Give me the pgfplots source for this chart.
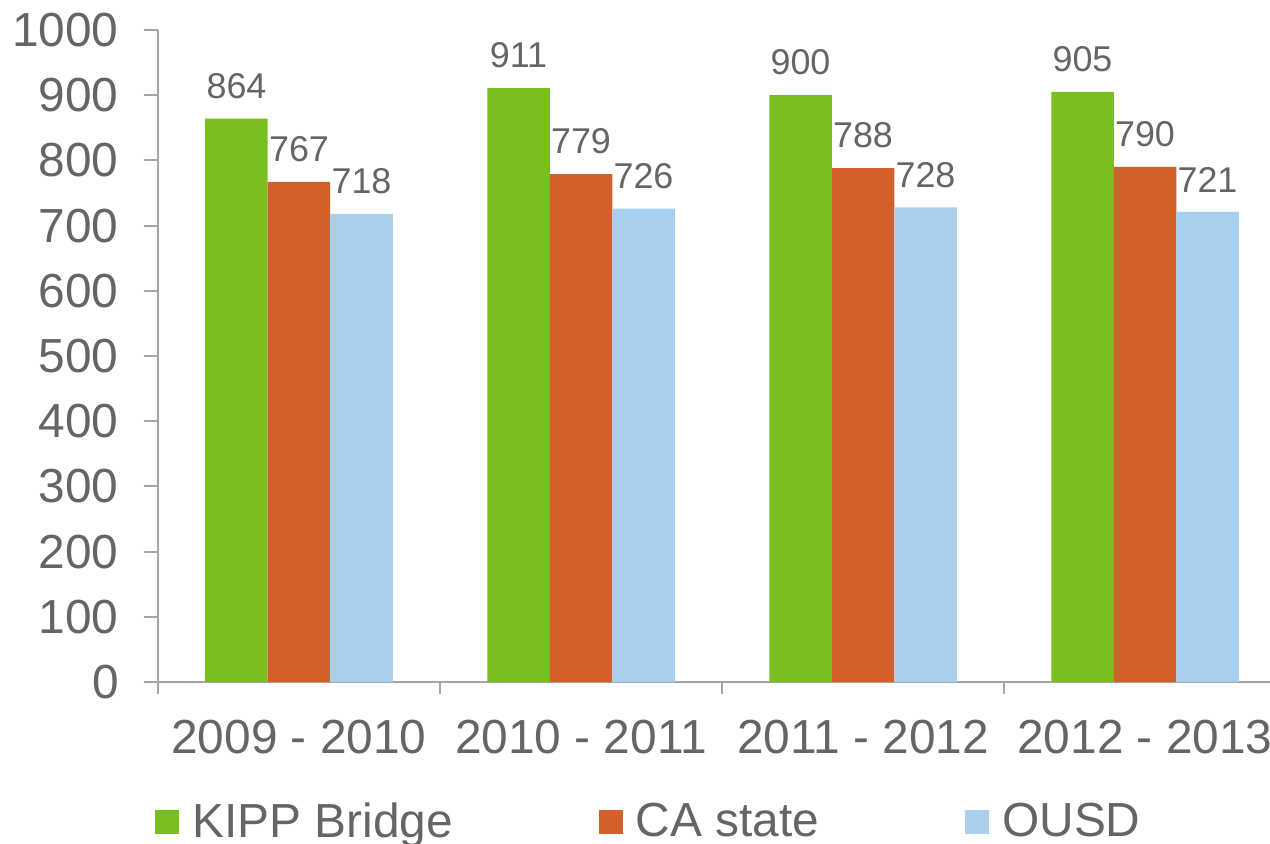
\documentclass[border=0pt]{standalone}
\usepackage{fontspec}
\setmainfont{Liberation Sans}
\usepackage{pgfplots}
\pgfplotsset{compat=1.18}
\definecolor{kipp}{HTML}{7ABF20}
\definecolor{castate}{HTML}{D2602A}
\definecolor{ousd}{HTML}{A8CFEE}
\definecolor{txt}{HTML}{646569}
\definecolor{axl}{HTML}{A6A6A6}
\pgfplotsset{legsq/.style={legend image code/.code={\fill[##1] (0bp,-6.4bp) rectangle (12bp,5.6bp);}}}
\begin{document}
\begin{tikzpicture}
\begin{axis}[
  name=ax,
  scale only axis, width=564bp, height=326bp,
  xmin=-0.5, xmax=3.5, ymin=0, ymax=1000,
  ybar=0pt, bar width=31.25bp,
  axis x line*=bottom, axis y line*=left,
  axis line style={draw=axl, line width=1bp, -},
  xtick={0,1,2,3},
  xticklabels={2009 - 2010, 2010 - 2011, 2011 - 2012, 2012 - 2013},
  major x tick style={draw=none},
  minor xtick={-0.5,0.5,1.5,2.5,3.5},
  minor x tick style={draw=axl, line width=1bp},
  ytick={0,100,...,1000},
  major y tick style={draw=axl, line width=1bp},
  tick align=outside,
  major tick length=7bp, minor tick length=6bp,
  /pgf/number format/assume math mode=true,
  /pgf/number format/1000 sep={},
  xticklabel style={font=\fontsize{24}{28}\selectfont, text=txt, inner sep=0pt, anchor=north, yshift=-12bp},
  yticklabel style={font=\fontsize{24}{28}\selectfont, text=txt, inner sep=0pt, anchor=east, xshift=-12.5bp},
  nodes near coords,
  nodes near coords style={font=\fontsize{18}{20}\selectfont, text=txt, inner sep=0pt, anchor=south, yshift=9.75bp},
  legend columns=3,
  legend style={at={(0,0)}, anchor=north west, xshift=-1.5bp, yshift=-60bp,
    draw=none, fill=none, inner sep=0pt, font=\fontsize{24}{28}\selectfont, text=txt,
    nodes={inner sep=0pt},
    /tikz/every even column/.append style={column sep=73bp},
    /tikz/every odd column/.append style={column sep=6.5bp}},
]
\addplot[fill=kipp, draw=none, legsq] coordinates {(0,864) (1,911) (2,900) (3,905)};
\addplot[fill=castate, draw=none, legsq] coordinates {(0,767) (1,779) (2,788) (3,790)};
\addplot[fill=ousd, draw=none, legsq] coordinates {(0,718) (1,726) (2,728) (3,721)};
\legend{KIPP Bridge, CA state, OUSD}
\end{axis}
\pgfresetboundingbox
\path[use as bounding box] (ax.south west) ++(-79bp,-81bp) rectangle ++(635bp,422bp);
\end{tikzpicture}
\end{document}
